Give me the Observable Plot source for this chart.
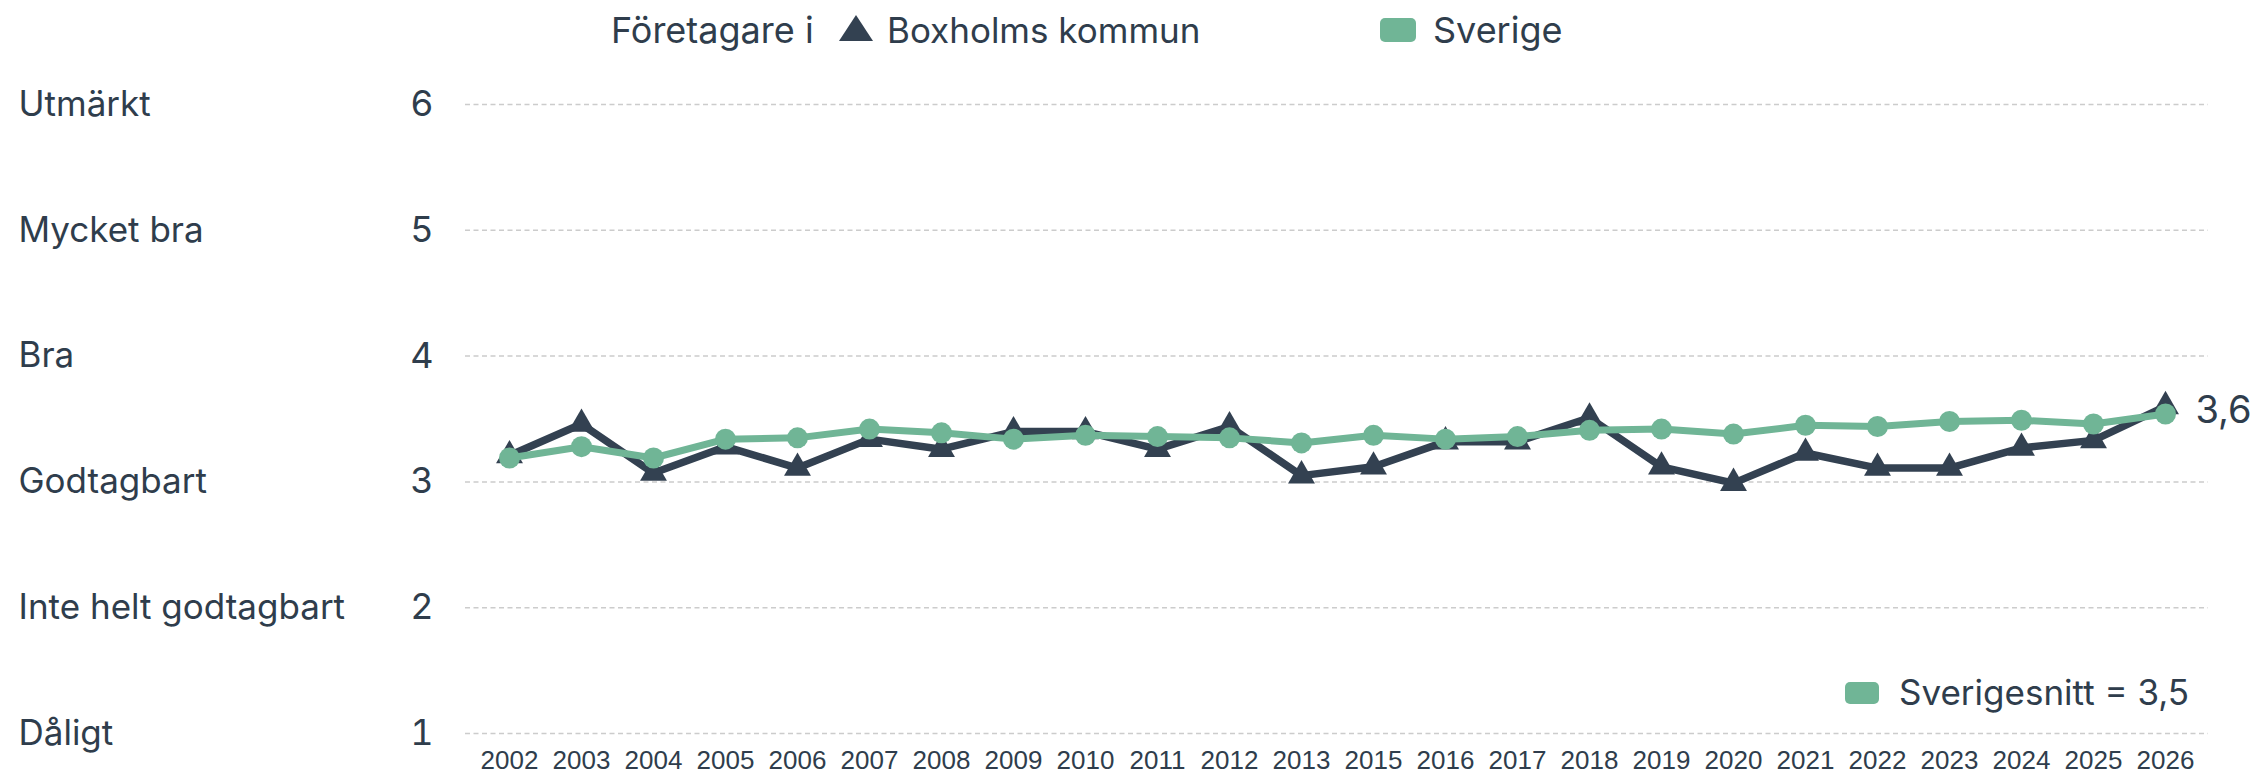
<!DOCTYPE html>
<html>
<head>
<meta charset="utf-8">
<script src="https://cdn.jsdelivr.net/npm/d3@7"></script>
<script src="https://cdn.jsdelivr.net/npm/@observablehq/plot@0.6"></script>
<style>
  html, body { margin: 0; padding: 0; background: #fff; }
  #wrap { position: relative; width: 2260px; height: 779px; font-family: Inter, "Noto Sans", sans-serif; color: #2f3d4c; }
  .lg { position: absolute; font-size: 36px; line-height: 36px; white-space: nowrap; }
  .sw { position: absolute; background: #70b596; border-radius: 5px; }
</style>
</head>
<body>
<div id="wrap">
  <div id="chart"></div>
  <div class="lg" style="left:611px; top:12px;">Företagare i</div>
  <svg style="position:absolute; left:839px; top:15px;" width="34" height="26"><path d="M17 0 L34 26 L0 26 Z" fill="#334151"/></svg>
  <div class="lg" style="left:887px; top:12px; font-size:35px;">Boxholms kommun</div>
  <div class="sw" style="left:1380px; top:18px; width:36px; height:24px;"></div>
  <div class="lg" style="left:1433px; top:12px;">Sverige</div>
  <div class="sw" style="left:1845px; top:682px; width:34px; height:22px;"></div>
  <div class="lg" id="snitt" style="left:1899px; top:674px; font-size:35px;"></div>
</div>
<script>
const years = ["2002","2003","2004","2005","2006","2007","2008","2009","2010","2011","2012","2013",
               "2015","2016","2017","2018","2019","2020","2021","2022","2023","2024","2025","2026"];
const boxholm = [3.21,3.46,3.07,3.28,3.11,3.34,3.26,3.40,3.40,3.26,3.44,3.05,
                 3.12,3.32,3.32,3.51,3.12,2.99,3.23,3.11,3.11,3.27,3.33,3.60];
const sverige = [3.19,3.28,3.19,3.34,3.35,3.42,3.39,3.34,3.37,3.36,3.35,3.31,
                 3.37,3.34,3.36,3.41,3.42,3.38,3.45,3.44,3.48,3.49,3.46,3.54];
const yTicks = [1,2,3,4,5,6];
const yLabels = ["Dåligt","Inte helt godtagbart","Godtagbart","Bra","Mycket bra","Utmärkt"];

const dark = "#334151";
const green = "#70b596";
const fmt = v => d3.format(".1f")(v).replace(".", ",");

const rows = years.map((y, i) => ({year: y, boxholm: boxholm[i], sverige: sverige[i]}));
const last = rows[rows.length - 1];

document.getElementById("snitt").textContent = "Sverigesnitt = " + fmt(last.sverige);

const chart = Plot.plot({
  width: 2260,
  height: 779,
  marginLeft: 465,
  marginRight: 52,
  marginTop: 104,
  marginBottom: 46,
  x: {type: "point", domain: years, padding: 0.5},
  y: {domain: [1, 6]},
  style: {fontFamily: "Inter, 'Noto Sans', sans-serif", color: "#2f3d4c", background: "transparent", overflow: "visible"},
  marks: [
    Plot.ruleY(yTicks, {stroke: "#cccccc", strokeWidth: 1.5, strokeDasharray: "5,3.5"}),
    Plot.axisY({ticks: yTicks, tickSize: 0, tickPadding: 32, fontSize: 36, label: null, tickFormat: d => String(d)}),
    Plot.text(yTicks, {y: d => d, text: (d, i) => yLabels[i], frameAnchor: "left", dx: -447, textAnchor: "start", fontSize: 35, fill: "#2f3d4c"}),
    Plot.axisX({tickSize: 0, tickPadding: 17, fontSize: 26, fontFamily: "'Liberation Sans', Arial, sans-serif", label: null}),
    Plot.line(rows, {x: "year", y: "boxholm", stroke: dark, strokeWidth: 7.5, strokeLinejoin: "miter"}),
    Plot.dot(rows, {x: "year", y: "boxholm", symbol: "triangle", r: 10, fill: dark}),
    Plot.line(rows, {x: "year", y: "sverige", stroke: green, strokeWidth: 7}),
    Plot.dot(rows, {x: "year", y: "sverige", r: 10.5, fill: green}),
    Plot.text([last], {x: "year", y: "boxholm", text: d => fmt(d.boxholm), dx: 30, dy: 4, textAnchor: "start", fontSize: 38, fill: "#2f3d4c"})
  ]
});
document.getElementById("chart").appendChild(chart);
</script>
</body>
</html>
